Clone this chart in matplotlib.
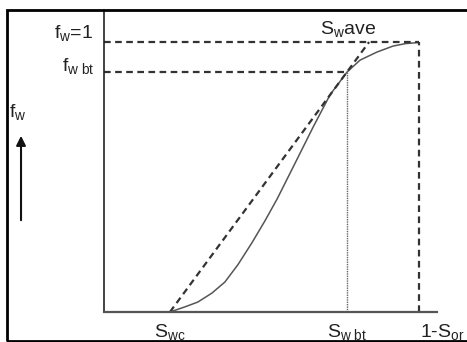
import matplotlib.pyplot as plt
from matplotlib.patches import Rectangle

plt.rcParams['font.family'] = ['Liberation Sans', 'DejaVu Sans']
plt.rcParams['mathtext.fontset'] = 'custom'
plt.rcParams['mathtext.rm'] = 'Liberation Sans'
plt.rcParams['mathtext.it'] = 'Liberation Sans'

# fractional flow curve
sw = [0.198, 0.243, 0.282, 0.324, 0.363, 0.402, 0.444, 0.483, 0.520, 0.568, 0.628,
      0.679, 0.730, 0.769, 0.820, 0.868, 0.905, 0.943]
fw = [0.0, 0.019, 0.037, 0.070, 0.111, 0.175, 0.256, 0.337, 0.419, 0.537, 0.685,
      0.805, 0.889, 0.933, 0.963, 0.985, 0.994, 0.998]

swc = 0.198
sw_bt = 0.730
fw_bt = 0.889
one_minus_sor = 0.946
sw_ave = 0.796

fig = plt.figure(figsize=(4.67, 3.42), dpi=100)
ax = fig.add_axes([0.2227, 0.0877, 0.7131, 0.883])
ax.set_xlim(0, 1)
ax.set_ylim(0, 1.1185)

ax.plot(sw, fw, color='#555555', lw=1.1)
ax.plot([swc, sw_ave], [0, 1], color='#333333', lw=1.6, linestyle=(0, (3, 2)))
ax.plot([0, one_minus_sor], [1, 1], color='#333333', lw=1.6, linestyle=(0, (3, 2)))
ax.plot([0, sw_bt], [fw_bt, fw_bt], color='#333333', lw=1.6, linestyle=(0, (3, 2)))
ax.plot([one_minus_sor, one_minus_sor], [0, 1], color='#333333', lw=1.6, linestyle=(0, (3, 2)))
ax.plot([sw_bt, sw_bt], [0, fw_bt], color='#666666', lw=1.0, linestyle=(0, (1, 0.7)))

for side in ['top', 'right']:
    ax.spines[side].set_visible(False)
ax.spines['left'].set_color('#222222')
ax.spines['left'].set_linewidth(1.2)
ax.spines['bottom'].set_color('#555555')
ax.spines['bottom'].set_linewidth(1.6)
ax.set_xticks([])
ax.set_yticks([])

tc = '#222222'
fs = 14
ax.text(-0.033, 1.035, r'$\mathrm{f_w}$=1', ha='right', va='center', fontsize=fs, color=tc)
ax.text(-0.027, 0.91, r'$\mathrm{f_{w\ bt}}$', ha='right', va='center', fontsize=fs, color=tc)
ax.text(0.649, 1.05, r'$\mathrm{S_w}$ave', ha='left', va='center', fontsize=fs, color=tc)
ax.text(swc, -0.075, r'$\mathrm{S_{wc}}$', ha='center', va='center', fontsize=fs, color=tc, clip_on=False)
ax.text(sw_bt, -0.075, r'$\mathrm{S_{w\ bt}}$', ha='center', va='center', fontsize=fs, color=tc, clip_on=False)
ax.text(0.949, -0.075, r'1-$\mathrm{S_{or}}$', ha='left', va='center', fontsize=fs, color=tc, clip_on=False)

fig.text(0.02, 0.672, r'$\mathrm{f_w}$', ha='left', va='center', fontsize=fs, color=tc)
fig.patches.append(Rectangle((0.015, 0.003), 1.2, 0.967, transform=fig.transFigure,
                             fill=False, edgecolor='black', lw=2))
ax.annotate('', xy=(0.045, 0.611), xytext=(0.045, 0.348), xycoords='figure fraction',
            arrowprops=dict(arrowstyle='-|>', color='#111111', lw=1.5, mutation_scale=14))

fig.savefig('out.png', dpi=100)
